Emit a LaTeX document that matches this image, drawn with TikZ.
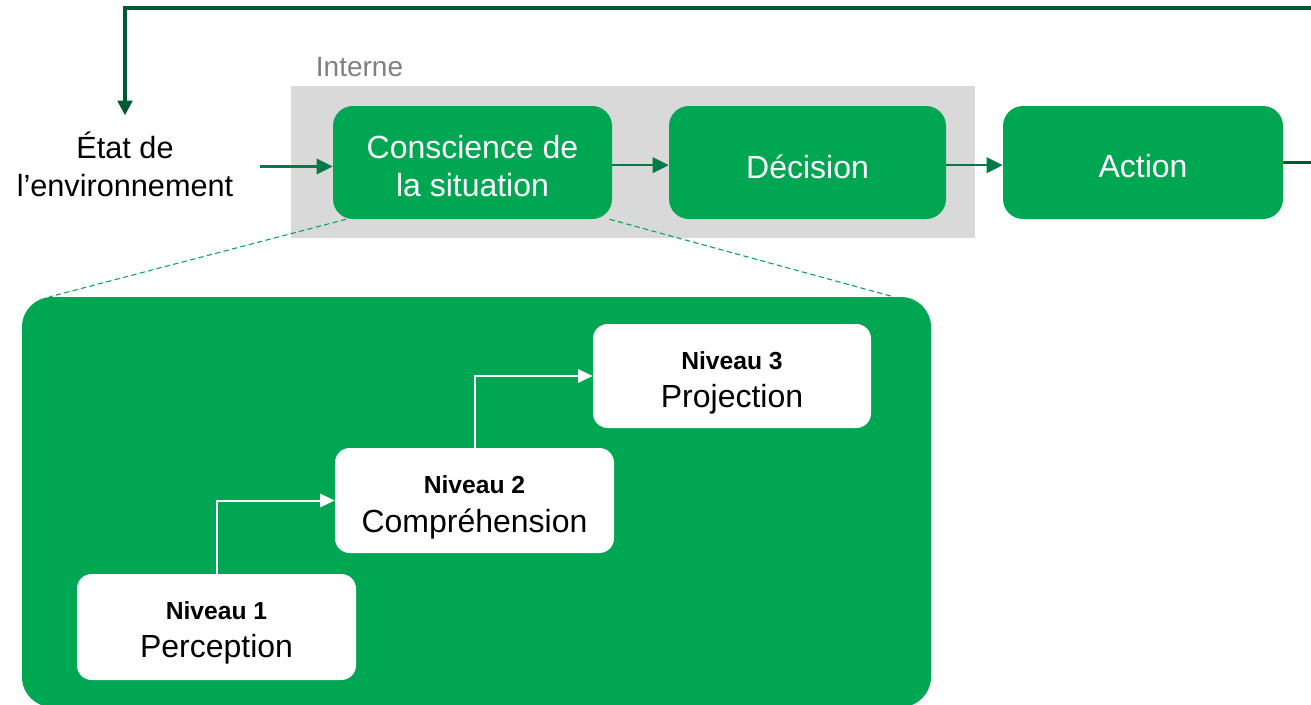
\documentclass[tikz,border=0pt]{standalone}
\usepackage{fontspec}
\setmainfont{Liberation Sans}
\usetikzlibrary{arrows.meta}
\definecolor{sagreen}{RGB}{0,166,81}
\definecolor{arrgreen}{RGB}{0,122,72}
\definecolor{fbgreen}{RGB}{0,90,52}
\definecolor{boxgray}{RGB}{217,217,217}
\definecolor{labelgray}{RGB}{128,128,128}
\tikzset{
  mainbox/.style={fill=sagreen, draw=none, rounded corners=15pt,
    minimum height=84.75pt, inner sep=0pt},
  boxtext/.style={text=white, align=center, inner sep=0pt,
    font=\fontsize{24}{28.5}\selectfont},
  levelbox/.style={fill=white, draw=none, rounded corners=11pt,
    minimum width=209.25pt, inner sep=0pt},
  leveltext/.style={text=black, align=center, inner sep=0pt},
  darrow/.style={draw=arrgreen, line width=1.8pt, -{Triangle[length=12pt,width=11.5pt]}},
  fback/.style={draw=fbgreen, line width=2.4pt, -{Triangle[length=11pt,width=11pt]}},
  warrow/.style={draw=white, line width=1.5pt, -{Triangle[length=11pt,width=10pt]}},
  dashline/.style={draw=sagreen, line width=0.8pt, dash pattern=on 4pt off 2.5pt},
}
\newcommand{\lvl}[2]{{\bfseries\fontsize{18.5}{22}\selectfont #1}\\[10pt]{\fontsize{24}{26}\selectfont #2}}
\begin{document}
\begin{tikzpicture}[x=0.75pt,y=-0.75pt]
\useasboundingbox (0,0) rectangle (1311,704);
% internal gray zone
\node[fill=boxgray, draw=none, minimum width=513pt, minimum height=114pt, inner sep=0pt] (interne) at (633,162) {};
\node[text=labelgray, inner sep=0pt, font=\fontsize{21}{25}\selectfont] (lbl) at (359.5,67) {Interne};
% top row
\node[mainbox, minimum width=209.25pt] (consc) at (472.5,162.5) {};
\node[mainbox, minimum width=207.75pt] (dec) at (807.5,162.5) {};
\node[mainbox, minimum width=210pt] (act) at (1143,162.5) {};
\node[boxtext] (consct) at ([yshift=-3pt]consc.center) {Conscience de\\la situation};
\node[boxtext] (dect) at ([yshift=-3pt]dec.center) {Décision};
\node[boxtext] (actt) at ([yshift=-3pt]act.center) {Action};
\node[inner sep=0pt, align=center, font=\fontsize{23}{28.5}\selectfont] (etat) at (125,164) {État de\\l’environnement};
% panel
\node[fill=sagreen, draw=none, rounded corners=22.5pt, minimum width=681.75pt, minimum height=307.5pt, inner sep=0pt] (panel) at (476.5,502) {};
% dashed zoom lines
\draw[dashline] ([xshift=10pt]consc.south west) -- ([xshift=21pt]panel.north west);
\draw[dashline] ([xshift=-2pt]consc.south east) -- ([xshift=-28.5pt]panel.north east);
% level boxes
\node[levelbox, minimum height=79.5pt] (n1) at (216.5,627) {};
\node[levelbox, minimum height=78.75pt] (n2) at (474.5,500.5) {};
\node[levelbox, minimum width=208.5pt, minimum height=78pt] (n3) at (732,376) {};
\node[leveltext] (n1t) at ([yshift=-4.5pt]n1.center) {\lvl{Niveau 1}{Perception}};
\node[leveltext] (n2t) at ([yshift=-5pt]n2.center) {\lvl{Niveau 2}{Compréhension}};
\node[leveltext] (n3t) at ([yshift=-5pt]n3.center) {\lvl{Niveau 3}{Projection}};
% arrows
\draw[darrow, shorten <=20pt] (etat.east |- consct.west) -- (consc.west |- consct.west);
\draw[darrow] ([yshift=-2pt]consc.east) -- ([yshift=-2pt]dec.west);
\draw[darrow] ([yshift=-2pt]dec.east) -- ([yshift=-2pt]act.west);
\coordinate (fbtop) at (1313,8);
\draw[fback, shorten >=12pt] (act.east) -| (fbtop) -| (etat.north);
\draw[warrow] (n1.north) |- (n2.west);
\draw[warrow] (n2.north) |- (n3.west);
\end{tikzpicture}
\end{document}
